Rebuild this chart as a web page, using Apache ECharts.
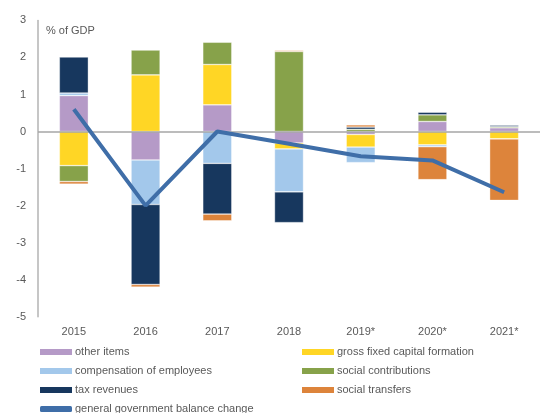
<!DOCTYPE html>
<html>
<head>
    <meta charset="utf-8">
    <title>Government balance change</title>
    <script src="https://cdn.jsdelivr.net/npm/echarts@6/dist/echarts.min.js"></script>
    <style>
        html, body { margin: 0; padding: 0; background: #fff; }
        #chart { width: 540px; height: 413px; }
    </style>
</head>
<body>
<div id="chart"></div>

<script>
    var categories = ['2015', '2016', '2017', '2018', '2019*', '2020*', '2021*'];
    var otherItems = [0.97, -0.77, 0.72, -0.31, -0.08, 0.27, 0.10];
    var grossCapital = [-0.92, 1.53, 1.09, -0.16, -0.34, -0.36, -0.20];
    var compensation = [0.07, -1.20, -0.86, -1.16, -0.42, -0.05, 0];
    var socialContrib = [-0.43, 0.67, 0.60, 2.16, 0.06, 0.18, 0.03];
    var taxRevenues = [0.97, -2.16, -1.37, -0.83, 0.06, 0.07, 0.04];
    var socialTransfers = [-0.07, -0.07, -0.18, 0.03, 0.06, -0.89, -1.66];
    var balanceChange = [0.60, -2.00, 0.00, -0.33, -0.67, -0.78, -1.64];
    var yTicks = [-5, -4, -3, -2, -1, 0, 1, 2, 3];

    var textGray = '#595959';
    var font = 'Liberation Sans, Arial, sans-serif';

    function bar(name, data, color) {
        return {
            name: name,
            type: 'bar',
            stack: 'total',
            barWidth: 29,
            data: data,
            itemStyle: {
                color: color,
                borderColor: 'rgba(255,255,255,0.6)',
                borderWidth: 0.6
            }
        };
    }

    var chart = echarts.init(document.getElementById('chart'));

    var series = [
        bar('other items', otherItems, '#b59ac7'),
        bar('gross fixed capital formation', grossCapital, '#ffd625'),
        bar('compensation of employees', compensation, '#a3c8eb'),
        bar('social contributions', socialContrib, '#87a24a'),
        bar('tax revenues', taxRevenues, '#17375e'),
        bar('social transfers', socialTransfers, '#dd843b'),
        {
            name: 'general government balance change',
            type: 'line',
            data: balanceChange,
            symbol: 'none',
            z: 5,
            itemStyle: { color: '#3f6ea8' },
            lineStyle: { color: '#3f6ea8', width: 4 }
        }
    ];

    // zero line
    series[0].markLine = {
        silent: true,
        symbol: 'none',
        label: { show: false },
        lineStyle: { color: '#a6a6a6', width: 1.5, type: 'solid' },
        data: [{ yAxis: 0 }]
    };

    var legendCommon = {
        orient: 'vertical',
        padding: 0,
        itemWidth: 32,
        itemHeight: 6,
        itemGap: 5,
        icon: 'rect',
        selectedMode: false,
        itemStyle: { borderWidth: 0 },
        textStyle: { color: textGray, fontSize: 11, fontFamily: font, lineHeight: 14, padding: [0, 0, 0, -2] }
    };

    var option = {
        animation: false,
        title: {
            text: '% of GDP',
            left: 41,
            top: 20,
            textStyle: { color: textGray, fontSize: 11, fontWeight: 'normal', fontFamily: font }
        },
        grid: {
            left: 38,
            top: 20.4,
            width: 505,
            height: 296.3
        },
        legend: [
            Object.assign({}, legendCommon, {
                left: 40,
                top: 345,
                data: ['other items', 'compensation of employees', 'tax revenues']
            }),
            Object.assign({}, legendCommon, {
                left: 302,
                top: 345,
                data: ['gross fixed capital formation', 'social contributions', 'social transfers']
            }),
            Object.assign({}, legendCommon, {
                left: 40,
                top: 402,
                icon: 'roundRect',
                data: ['general government balance change']
            })
        ],
        xAxis: {
            type: 'category',
            data: categories,
            axisLine: { show: false },
            axisTick: { show: false },
            axisLabel: { color: textGray, fontSize: 11, fontFamily: font, margin: 10 }
        },
        yAxis: {
            type: 'value',
            min: yTicks[0],
            max: yTicks[yTicks.length - 1],
            interval: 1,
            axisLine: { show: true, lineStyle: { color: '#b3b3b3', width: 1.5 } },
            axisTick: { show: false },
            splitLine: { show: false },
            axisLabel: { color: textGray, fontSize: 11, fontFamily: font, margin: 12 }
        },
        series: series
    };

    chart.setOption(option);
</script>
</body>
</html>
